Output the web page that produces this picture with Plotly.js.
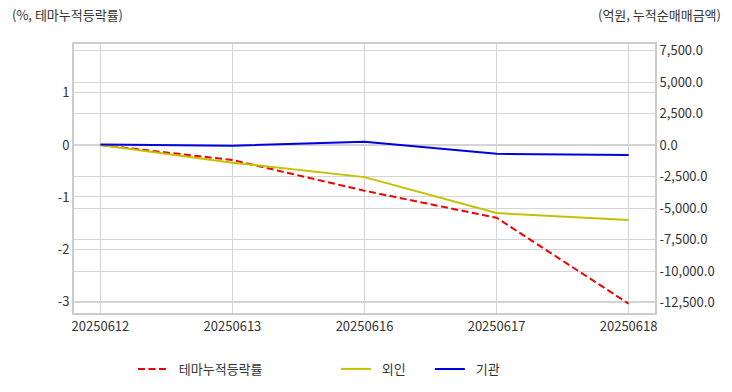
<!DOCTYPE html>
<html>
<head>
<meta charset="utf-8">
<script src="https://cdn.plot.ly/plotly-3.0.1.min.js"></script>
<style>html,body{margin:0;padding:0;background:#fff;}#chart{width:732px;height:392px;}</style>
</head>
<body>
<div id="chart"></div>
<script>
// Data
var dates = ['20250612', '20250613', '20250616', '20250617', '20250618'];
var themeReturn = [0, -0.29, -0.88, -1.40, -3.05];      // % (left axis)
var foreignNet = [0, -1400, -2550, -5400, -5950];        // 억원 (right axis)
var instNet = [30, -60, 250, -700, -790];                // 억원 (right axis)

var leftTickVals = [1, 0, -1, -2, -3];
var leftTickText = ['1', '0', '-1', '-2', '-3'];
var rightTickVals = [7500, 5000, 2500, 0, -2500, -5000, -7500, -10000, -12500];
var rightTickText = ['7,500.0', '5,000.0', '2,500.0', '0.0', '-2,500.0', '-5,000.0', '-7,500.0', '-10,000.0', '-12,500.0'];

var FONT = '"Noto Sans CJK KR", "Noto Sans", sans-serif';
var TXT = '#333333';
var GRID = '#d4d4d4';
var NB = '\u00a0\u00a0';

var traces = [
  {x: dates, y: themeReturn, type: 'scatter', mode: 'lines', name: NB + '테마누적등락률',
   line: {color: '#f00000', width: 2, dash: '7px,3.5px'}, yaxis: 'y', legend: 'legend'},
  {x: dates, y: foreignNet, type: 'scatter', mode: 'lines', name: NB + '외인',
   line: {color: '#c4c000', width: 2}, yaxis: 'y2', legend: 'legend2'},
  {x: dates, y: instNet, type: 'scatter', mode: 'lines', name: NB + '기관',
   line: {color: '#0000e0', width: 2}, yaxis: 'y2', legend: 'legend3'}
];

var legendBase = {orientation: 'h', yanchor: 'middle', xanchor: 'left', y: -0.208,
  font: {family: FONT, size: 13, color: TXT}, bgcolor: 'rgba(0,0,0,0)', borderwidth: 0};

var layout = {
  width: 732, height: 392,
  margin: {l: 74, r: 77, t: 44, b: 79, autoexpand: false},
  paper_bgcolor: '#fff', plot_bgcolor: '#fff',
  font: {family: FONT, size: 12, color: TXT},
  showlegend: true,
  legend: Object.assign({}, legendBase, {x: 0.1015}),
  legend2: Object.assign({}, legendBase, {x: 0.451}),
  legend3: Object.assign({}, legendBase, {x: 0.6125}),
  xaxis: {
    type: 'category', range: [-0.2, 4.2], automargin: false,
    showgrid: true, gridcolor: GRID, gridwidth: 1,
    showline: true, mirror: true, linecolor: '#cccccc', linewidth: 2,
    ticks: '', tickfont: {family: FONT, size: 13, color: TXT}, fixedrange: true
  },
  yaxis: {
    range: [-3.23, 1.94], tickvals: leftTickVals, ticktext: leftTickText, automargin: false,
    showgrid: true, gridcolor: GRID, gridwidth: 1, zeroline: false,
    showline: true, linecolor: '#cccccc', linewidth: 2,
    ticks: '', tickfont: {family: FONT, size: 13, color: TXT}, fixedrange: true
  },
  yaxis2: {
    overlaying: 'y', side: 'right', automargin: false,
    range: [-13333, 8016], tickvals: rightTickVals, ticktext: rightTickText,
    showgrid: true, gridcolor: GRID, gridwidth: 1, zeroline: false,
    showline: true, linecolor: '#cccccc', linewidth: 2,
    ticks: '', tickfont: {family: FONT, size: 13, color: TXT}, fixedrange: true
  },
  annotations: [
    {text: '(%, 테마누적등락률)', xref: 'paper', yref: 'paper', x: -0.1102, y: 1.0, xanchor: 'left', yanchor: 'bottom',
     yshift: 18, showarrow: false, font: {family: FONT, size: 13, color: TXT}},
    {text: '(억원, 누적순매매금액)', xref: 'paper', yref: 'paper', x: 1.1175, y: 1.0, xanchor: 'right', yanchor: 'bottom',
     yshift: 18, showarrow: false, font: {family: FONT, size: 13, color: TXT}}
  ]
};

Plotly.newPlot('chart', traces, layout, {displayModeBar: false, staticPlot: true});
</script>
</body>
</html>
